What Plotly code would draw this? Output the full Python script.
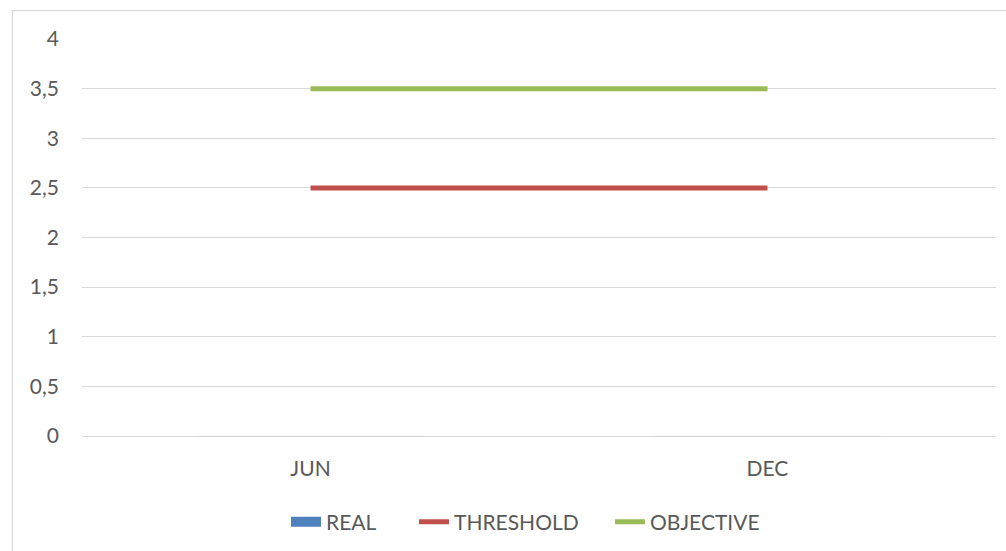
import plotly.graph_objects as go

categories = ["JUN", "DEC"]
real = [0, 0]
threshold = [2.5, 2.5]
objective = [3.5, 3.5]
y_ticks = [0, 0.5, 1, 1.5, 2, 2.5, 3, 3.5, 4]

FONT = "Lato"
TXT = "#595959"
FS = 21

W, H = 1006, 551
L, R, T, B = 82, 10, 39, 114
pw, ph = W - L - R, H - T - B

def px_x(x):
    return (x - L) / pw

def px_y(y):
    return (H - B - y) / ph

fig = go.Figure()
fig.add_trace(go.Bar(x=categories, y=real, name="REAL", marker_color="#4F81BD",
                     showlegend=False))
fig.add_trace(go.Scatter(x=[None], y=[None], name="REAL", mode="lines",
                         line=dict(color="#4F81BD", width=14), legend="legend"))
fig.add_trace(go.Scatter(x=categories, y=threshold, name="THRESHOLD", mode="lines",
                         line=dict(color="#C0504D", width=5), legend="legend2"))
fig.add_trace(go.Scatter(x=categories, y=objective, name="OBJECTIVE", mode="lines",
                         line=dict(color="#9BBB59", width=5), legend="legend3"))

fig.add_shape(type="rect", xref="paper", yref="paper",
              x0=px_x(12.5), x1=px_x(1030), y0=px_y(600), y1=px_y(10.5),
              line=dict(color="#D9D9D9", width=1.3), fillcolor="rgba(0,0,0,0)", layer="below")

leg = dict(orientation="h", yanchor="middle", xanchor="left", y=px_y(522),
           font=dict(size=FS, color=TXT), bgcolor="rgba(0,0,0,0)")

fig.update_layout(
    width=W, height=H,
    margin=dict(l=L, r=R, t=T, b=B),
    paper_bgcolor="white", plot_bgcolor="white",
    separators=",.",
    font=dict(family=FONT, size=FS, color=TXT),
    showlegend=True,
    legend=dict(leg, x=px_x(286)),
    legend2=dict(leg, x=px_x(414)),
    legend3=dict(leg, x=px_x(610)),
    bargap=0.5,
)
fig.update_xaxes(type="category", range=[-0.5, 1.5], showgrid=False, showline=False,
                 ticks="", ticklabelstandoff=18, tickfont=dict(size=FS, color=TXT))
fig.update_yaxes(range=[0, 4], tickvals=y_ticks, showgrid=True, gridcolor="#D9D9D9",
                 gridwidth=1.3, zeroline=True, zerolinecolor="#D9D9D9", zerolinewidth=1.3,
                 showline=False, ticks="", ticklabelstandoff=22,
                 tickfont=dict(size=FS, color=TXT))

fig.write_html("out.html", config={"displayModeBar": False},
               post_script="document.body.style.margin='0';")
